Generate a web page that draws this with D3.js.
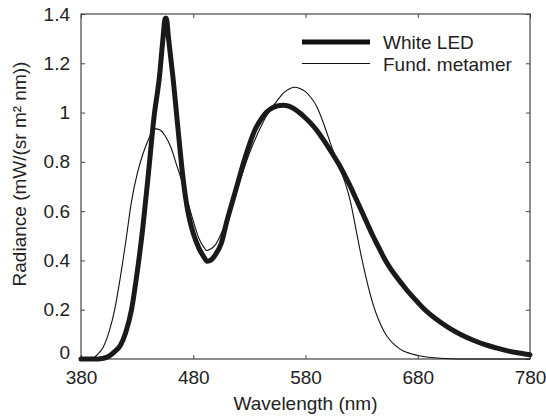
<!DOCTYPE html>
<html>
<head>
<meta charset="utf-8">
<script src="https://cdn.jsdelivr.net/npm/d3@7"></script>
<style>
  html, body { margin: 0; padding: 0; background: #fff; }
  svg { display: block; }
  text { font-family: "Liberation Sans", Arial, Helvetica, sans-serif; fill: #222; }
</style>
</head>
<body>
<svg id="chart" width="546" height="416"></svg>
<script>
// ---- Data ----
const ledWavelengths = [380, 395, 400, 405, 410, 415, 420, 425, 430, 435, 440, 445, 450, 453, 455, 456, 458, 460, 462, 465, 468, 470, 473, 476, 480, 485, 490, 492, 495, 500, 505, 510, 515, 520, 525, 530, 535, 540, 545, 550, 555, 560, 565, 570, 575, 580, 585, 590, 595, 600, 605, 610, 615, 620, 625, 630, 635, 640, 645, 650, 655, 660, 665, 670, 675, 680, 685, 690, 700, 710, 720, 730, 740, 750, 760, 770, 780];
const ledValues = [0, 0, 0.003, 0.012, 0.03, 0.055, 0.11, 0.2, 0.35, 0.53, 0.75, 0.98, 1.15, 1.3, 1.383, 1.383, 1.3, 1.22, 1.14, 1.0, 0.86, 0.77, 0.66, 0.58, 0.51, 0.45, 0.41, 0.397, 0.4, 0.425, 0.47, 0.56, 0.64, 0.72, 0.8, 0.87, 0.93, 0.97, 1.0, 1.018, 1.027, 1.03, 1.026, 1.015, 0.998, 0.978, 0.955, 0.928, 0.896, 0.862, 0.826, 0.788, 0.745, 0.7, 0.65, 0.6, 0.55, 0.5, 0.455, 0.41, 0.372, 0.34, 0.31, 0.281, 0.255, 0.23, 0.206, 0.185, 0.15, 0.12, 0.095, 0.075, 0.058, 0.045, 0.033, 0.024, 0.017];

const metWavelengths = [380, 385, 390, 395, 400, 405, 410, 415, 420, 425, 430, 435, 440, 445, 450, 455, 460, 465, 470, 475, 480, 485, 490, 492, 495, 500, 505, 510, 515, 520, 525, 530, 535, 540, 545, 550, 555, 560, 565, 570, 575, 580, 585, 590, 595, 600, 605, 610, 615, 620, 625, 630, 635, 640, 645, 650, 655, 660, 665, 670, 675, 680, 690, 700, 710, 720, 780];
const metValues = [0, 0, 0.003, 0.02, 0.05, 0.11, 0.2, 0.33, 0.48, 0.64, 0.75, 0.83, 0.89, 0.935, 0.93, 0.905, 0.86, 0.79, 0.72, 0.64, 0.56, 0.49, 0.45, 0.44, 0.445, 0.465, 0.51, 0.57, 0.63, 0.7, 0.77, 0.835, 0.89, 0.94, 0.985, 1.02, 1.05, 1.078, 1.095, 1.103, 1.098, 1.085, 1.06, 1.025, 0.97, 0.905, 0.84, 0.78, 0.72, 0.64, 0.525, 0.41, 0.31, 0.225, 0.16, 0.112, 0.078, 0.055, 0.038, 0.027, 0.02, 0.014, 0.007, 0.003, 0.001, 0, 0];

const seriesNames = ["White LED", "Fund. metamer"];
const xTickValues = [380, 480, 580, 680, 780];
const yTickValues = [0, 0.2, 0.4, 0.6, 0.8, 1, 1.2, 1.4];
const xLabel = "Wavelength (nm)";
const yLabel = "Radiance (mW/(sr m\u00B2 nm))";

// ---- Layout ----
const W = 546, H = 416;
const margin = { left: 81, right: 16, top: 14, bottom: 57 };
const iw = W - margin.left - margin.right;
const ih = H - margin.top - margin.bottom;

const svg = d3.select("#chart");
const g = svg.append("g").attr("transform", `translate(${margin.left},${margin.top})`);

const x = d3.scaleLinear().domain([380, 780]).range([0, iw]);
const y = d3.scaleLinear().domain([0, 1.4]).range([ih, 0]);

const fmtY = d => d3.format("~g")(d);
const axisColor = "#444";
const fontSize = 19;

// Bottom axis (with labels)
const xb = g.append("g").attr("transform", `translate(0,${ih})`)
  .call(d3.axisBottom(x).tickValues(xTickValues).tickSizeInner(-4).tickSizeOuter(0).tickPadding(12).tickFormat(d3.format("d")));
// Top axis (ticks only)
const xt = g.append("g")
  .call(d3.axisTop(x).tickValues(xTickValues).tickSizeInner(-4).tickSizeOuter(0).tickFormat(""));
// Left axis (with labels)
const yl = g.append("g")
  .call(d3.axisLeft(y).tickValues(yTickValues).tickSizeInner(-4).tickSizeOuter(0).tickPadding(11).tickFormat(fmtY));
// Right axis (ticks only)
const yr = g.append("g").attr("transform", `translate(${iw},0)`)
  .call(d3.axisRight(y).tickValues(yTickValues).tickSizeInner(-4).tickSizeOuter(0).tickFormat(""));

[xb, xt, yl, yr].forEach(a => {
  a.select(".domain").remove();
  a.selectAll(".tick line").attr("stroke", axisColor).attr("stroke-width", 1);
  a.selectAll(".tick text").attr("font-size", fontSize).attr("fill", "#222")
    .attr("font-family", "Liberation Sans, Arial, Helvetica, sans-serif");
});
// nudge the "0" y label up (as in reference)
yl.selectAll(".tick").filter(d => d === 0).select("text").attr("dy", "-0.05em");

// Frame
g.append("rect").attr("x", 0).attr("y", 0).attr("width", iw).attr("height", ih)
  .attr("fill", "none").attr("stroke", axisColor).attr("stroke-width", 1.2);

// Lines
const line = d3.line().x(d => x(d[0])).y(d => y(d[1])).curve(d3.curveMonotoneX);
const metData = metWavelengths.map((w, i) => [w, metValues[i]]);
const ledData = ledWavelengths.map((w, i) => [w, ledValues[i]]);

g.append("path").datum(metData).attr("d", line)
  .attr("fill", "none").attr("stroke", "#111").attr("stroke-width", 1.1);
g.append("path").datum(ledData).attr("d", line)
  .attr("fill", "none").attr("stroke", "#1a1a1a").attr("stroke-width", 5)
  .attr("stroke-linejoin", "round").attr("stroke-linecap", "round");

// Legend
const legend = svg.append("g");
const legendItems = [
  { name: seriesNames[0], width: 5, y: 42 },
  { name: seriesNames[1], width: 1.1, y: 63.5 }
];
legendItems.forEach(it => {
  legend.append("line").attr("x1", 302).attr("x2", 370).attr("y1", it.y).attr("y2", it.y)
    .attr("stroke", "#111").attr("stroke-width", it.width);
  legend.append("text").attr("x", 383).attr("y", it.y + 7).attr("font-size", fontSize).text(it.name);
});

// Axis labels
svg.append("text").attr("x", margin.left + iw / 2).attr("y", 410)
  .attr("text-anchor", "middle").attr("font-size", fontSize).text(xLabel);
svg.append("text").attr("transform", `translate(26,174) rotate(-90)`)
  .attr("text-anchor", "middle").attr("font-size", fontSize).text(yLabel);
</script>
</body>
</html>
